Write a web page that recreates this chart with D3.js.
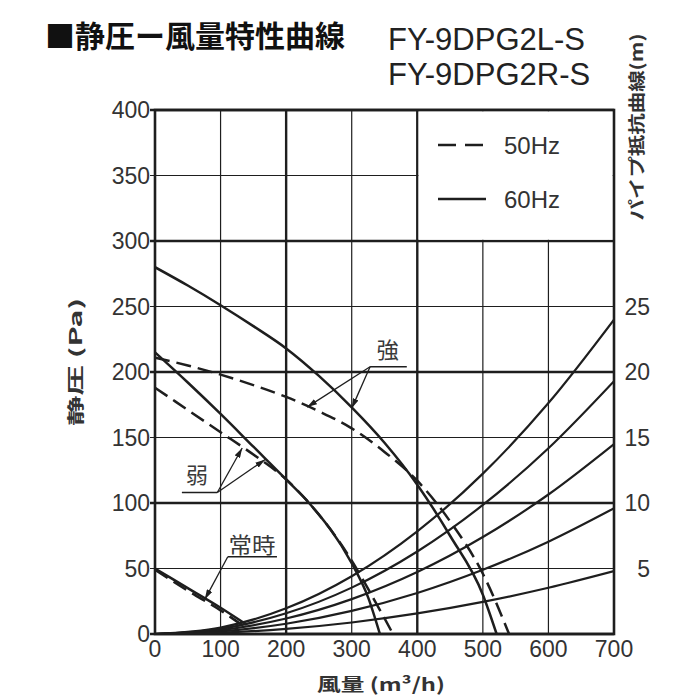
<!DOCTYPE html>
<html><head><meta charset="utf-8">
<script src="https://cdn.jsdelivr.net/npm/d3@7"></script>
<style>body{margin:0;background:#fff}</style>
</head><body>
<svg id="chart" width="700" height="700"></svg>
<script>
// ---- data ----
const flowTicks = [0,100,200,300,400,500,600,700];
const paTicks = [0,50,100,150,200,250,300,350,400];
const pipeTicks = [5,10,15,20,25];

// 強 60Hz (solid) / 50Hz (dashed)
const strong60Flow = [0,50,100,150,200,250,300,350,400,450,500,521];
const strong60Pa   = [280,266,251,235,218,197,173,146,114,75,30,0];
const strong50Flow = [0,50,100,150,200,250,300,350,400,450,500,540];
const strong50Pa   = [211,205,198,190,181,170,157,139,117,86,46,0];
// 弱
const weak60Flow = [0,50,100,150,200,235,300,325,343];
const weak60Pa   = [215,192,168,143,118,100,54,28,0];
const weak50Flow = [0,50,100,150,200,235,300,330,363];
const weak50Pa   = [188,171,154,137,118,100,56,30,0];
// 常時
const const60Flow = [0,50,100,140];
const const60Pa   = [50,35,20,7];
const const50Flow = [0,50,100,135];
const const50Pa   = [49,33,18,6];

// pipe resistance curves (Pa) at flowTicks
const pipe1 = [0,4.9,19.6,44.1,78.4,122.4,176.3,240];
const pipe2 = [0,3.9,15.8,35.4,63.0,98.5,141.8,193];
const pipe3 = [0,3.0,11.8,26.6,47.3,74.0,106.5,145];
const pipe4 = [0,2.0,7.8,17.6,31.3,49.0,70.5,96];
const pipe5 = [0,1.0,3.9,8.8,15.7,24.5,35.3,48];

// ---- chart ----
const svg = d3.select("#chart");
const x = d3.scaleLinear().domain([0,700]).range([155,614]);
const y = d3.scaleLinear().domain([0,400]).range([634,110]);
const yR = d3.scaleLinear().domain([0,40]).range([634,110]);
const ink = "#1e1e1e";
const latin = "'Liberation Sans', Arial, sans-serif";
const cjk = "'Noto Sans CJK JP', sans-serif";

// grid
svg.append("g").selectAll("line").data(paTicks).join("line")
  .attr("x1", x(0)-5).attr("x2", x(700)).attr("y1", d=>y(d)).attr("y2", d=>y(d))
  .attr("stroke", ink).attr("stroke-width", d => d%100===0 ? 2.4 : 1.2);
svg.append("g").selectAll("line").data(flowTicks).join("line")
  .attr("x1", d=>x(d)).attr("x2", d=>x(d)).attr("y1", y(0)).attr("y2", y(400))
  .attr("stroke", ink).attr("stroke-width", d => (d===200||d===400) ? 2.4 : 1.2);

// legend box (covers grid)
svg.append("rect").attr("x", x(400)+1.3).attr("y", y(400)+1.3)
  .attr("width", x(700)-x(400)-2.6).attr("height", y(300)-y(400)-2.6).attr("fill","#fff");

// border
svg.append("rect").attr("x", x(0)).attr("y", y(400)).attr("width", x(700)-x(0)).attr("height", y(0)-y(400))
  .attr("fill","none").attr("stroke", ink).attr("stroke-width", 2.6);

// tick labels
svg.append("g").selectAll("text").data(paTicks).join("text")
  .attr("x", 150).attr("y", d=>y(d)+8).attr("text-anchor","end")
  .attr("font-family", latin).attr("font-size", 23).attr("fill","#333").text(d=>d);
svg.append("g").selectAll("text").data(flowTicks).join("text")
  .attr("x", d=>x(d)).attr("y", 657).attr("text-anchor","middle")
  .attr("font-family", latin).attr("font-size", 23).attr("fill","#333").text(d=>d);
svg.append("g").selectAll("text").data(pipeTicks).join("text")
  .attr("x", 650).attr("y", d=>yR(d)+8).attr("text-anchor","end")
  .attr("font-family", latin).attr("font-size", 23).attr("fill","#333").text(d=>d);

// clip
svg.append("clipPath").attr("id","plotclip").append("rect")
  .attr("x", x(0)).attr("y", y(400)).attr("width", x(700)-x(0)).attr("height", y(0)-y(400));

const line = d3.line().x(d=>x(d[0])).y(d=>y(d[1])).curve(d3.curveMonotoneX);
const zip = (a,b) => a.map((v,i)=>[v,b[i]]);
const curves = svg.append("g").attr("clip-path","url(#plotclip)");

[pipe1,pipe2,pipe3,pipe4,pipe5].forEach(p => {
  curves.append("path").attr("d", line(zip(flowTicks,p))).attr("fill","none")
    .attr("stroke", ink).attr("stroke-width", 2.2);
});
const dash = "15,7";
const fanCurves = [
  [strong60Flow, strong60Pa, false], [strong50Flow, strong50Pa, true],
  [weak60Flow, weak60Pa, false], [weak50Flow, weak50Pa, true],
  [const60Flow, const60Pa, false], [const50Flow, const50Pa, true]
];
fanCurves.forEach(([f,p,d]) => {
  curves.append("path").attr("d", line(zip(f,p))).attr("fill","none")
    .attr("stroke", ink).attr("stroke-width", 2.5)
    .attr("stroke-dasharray", d ? dash : null);
});

// legend
svg.append("line").attr("x1",438).attr("x2",486).attr("y1",145).attr("y2",145)
  .attr("stroke", ink).attr("stroke-width",2.5).attr("stroke-dasharray","18,9");
svg.append("line").attr("x1",438).attr("x2",486).attr("y1",199).attr("y2",199)
  .attr("stroke", ink).attr("stroke-width",2.5);
svg.append("text").attr("x",504).attr("y",154).attr("font-family",latin).attr("font-size",24)
  .attr("fill","#333").text("50Hz");
svg.append("text").attr("x",504).attr("y",208).attr("font-family",latin).attr("font-size",24)
  .attr("fill","#333").text("60Hz");

// annotations
const defs = svg.append("defs");
defs.append("marker").attr("id","arr").attr("viewBox","0 0 10 6").attr("refX",10).attr("refY",3)
  .attr("markerWidth",10).attr("markerHeight",6).attr("markerUnits","userSpaceOnUse").attr("orient","auto")
  .append("path").attr("d","M0,0 L10,3 L0,6 Z").attr("fill", ink);

function interp(fl, pa, q){
  for(let i=0;i<fl.length-1;i++){
    if(q>=fl[i] && q<=fl[i+1]){ const t=(q-fl[i])/(fl[i+1]-fl[i]); return pa[i]+t*(pa[i+1]-pa[i]); }
  }
  return pa[pa.length-1];
}
const annotations = [
  {label:"強", tx:355, tp:217, u0:328, u1:384, up:204, from:328, len:22,
   targets:[[strong50Flow,strong50Pa,232],[strong60Flow,strong60Pa,300]]},
  {label:"弱", tx:64, tp:121, u0:41, u1:95, up:108, from:95, len:22,
   targets:[[weak50Flow,weak50Pa,133],[weak60Flow,weak60Pa,168]]},
  {label:"常時", tx:148, tp:68, u0:111, u1:186, up:59, from:111, len:47,
   targets:[[const60Flow,const60Pa,76]]}
];
annotations.forEach(a => {
  svg.append("text").attr("x", x(a.tx)).attr("y", y(a.tp)+8).attr("text-anchor","middle")
    .attr("font-family", cjk).attr("font-size", 22).attr("fill","#3a3a3a")
    .attr("textLength", a.len).attr("lengthAdjust","spacingAndGlyphs").text(a.label);
  svg.append("line").attr("x1",x(a.u0)).attr("x2",x(a.u1)).attr("y1",y(a.up)).attr("y2",y(a.up))
    .attr("stroke", ink).attr("stroke-width",1.5);
  a.targets.forEach(([f,p,q]) => {
    svg.append("line").attr("x1",x(a.from)).attr("y1",y(a.up))
      .attr("x2",x(q)).attr("y2",y(interp(f,p,q))+1)
      .attr("stroke", ink).attr("stroke-width",1.3).attr("marker-end","url(#arr)");
  });
});

// titles
svg.append("text").attr("x",45).attr("y",47).attr("font-family",cjk).attr("font-weight","bold")
  .attr("font-size",30).attr("fill","#111").text("■静圧ー風量特性曲線");
svg.append("text").attr("x",388).attr("y",50).attr("font-family",latin).attr("font-size",31)
  .attr("fill","#222").text("FY-9DPG2L-S");
svg.append("text").attr("x",388).attr("y",85).attr("font-family",latin).attr("font-size",31)
  .attr("fill","#222").text("FY-9DPG2R-S");

svg.append("text").attr("transform","translate(82,362) rotate(-90)").attr("text-anchor","middle")
  .attr("font-family",cjk).attr("font-weight","bold").attr("font-size",17).attr("fill","#333")
  .attr("textLength",128).attr("lengthAdjust","spacingAndGlyphs").text("静圧 (Pa)");
svg.append("text").attr("transform","translate(643,127) rotate(-90)").attr("text-anchor","middle")
  .attr("font-family",cjk).attr("font-weight","bold").attr("font-size",17).attr("fill","#333")
  .attr("textLength",187).attr("lengthAdjust","spacingAndGlyphs").text("パイプ抵抗曲線(m)");
svg.append("text").attr("x",381).attr("y",691).attr("text-anchor","middle")
  .attr("font-family",cjk).attr("font-weight","bold").attr("font-size",18).attr("fill","#333")
  .attr("textLength",128).attr("lengthAdjust","spacingAndGlyphs").text("風量 (m³/h)");
</script>
</body></html>
